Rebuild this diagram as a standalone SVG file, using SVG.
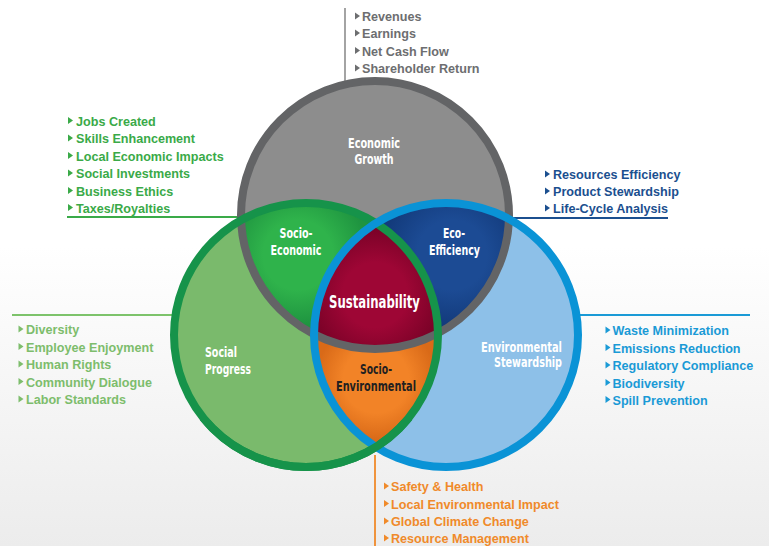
<svg xmlns="http://www.w3.org/2000/svg" xmlns:xlink="http://www.w3.org/1999/xlink" width="769" height="546" viewBox="0 0 769 546">
<defs>
<style>
.lbl{font-family:'Liberation Sans Narrow','DejaVu Sans Condensed',sans-serif;font-weight:bold;font-size:14px;fill:#ffffff;text-anchor:middle}
.li{font-family:'Liberation Sans',Arial,sans-serif;font-weight:bold;font-size:12.6px}
.conn{fill:none;stroke-width:1.8}
</style>
<linearGradient id="bg" x1="0" y1="0" x2="0" y2="1">
<stop offset="0.45" stop-color="#ffffff"/>
<stop offset="1" stop-color="#ececec"/>
</linearGradient>
<path id="tri" d="M0,-8.6 L5,-5 L0,-1.4 Z"/>
<clipPath id="cGray"><circle cx="375" cy="215" r="134"/></clipPath>
<clipPath id="cGreen"><circle cx="306" cy="335" r="132"/></clipPath>
<clipPath id="cBlue"><circle cx="446" cy="335" r="132"/></clipPath>
<clipPath id="cBottom"><rect x="0" y="420" width="769" height="126"/></clipPath>
<radialGradient id="gSE" gradientUnits="userSpaceOnUse" cx="298" cy="255" r="70">
<stop offset="0.5" stop-color="#2fb34b"/><stop offset="1" stop-color="#1f9440"/></radialGradient>
<radialGradient id="gEE" gradientUnits="userSpaceOnUse" cx="452" cy="255" r="70">
<stop offset="0.5" stop-color="#1c4b94"/><stop offset="1" stop-color="#133b7c"/></radialGradient>
<radialGradient id="gSus" gradientUnits="userSpaceOnUse" cx="375" cy="295" r="65">
<stop offset="0.5" stop-color="#9e0635"/><stop offset="1" stop-color="#7c0228"/></radialGradient>
<radialGradient id="gOr" gradientUnits="userSpaceOnUse" cx="376" cy="380" r="60">
<stop offset="0.55" stop-color="#f28327"/><stop offset="1" stop-color="#d96a18"/></radialGradient>
</defs>

<rect x="0" y="0" width="769" height="546" fill="url(#bg)"/>

<g id="connectors">
<line class="conn" x1="345" y1="8" x2="345" y2="90" stroke="#9a9a9a"/>
<line class="conn" x1="67" y1="217" x2="250" y2="217" stroke="#3aaa48"/>
<line class="conn" x1="505" y1="218" x2="668" y2="218" stroke="#1b4f8f"/>
<line class="conn" x1="12" y1="315" x2="180" y2="315" stroke="#7dc36b"/>
<line class="conn" x1="570" y1="315" x2="750" y2="315" stroke="#1a9ad6"/>
<line class="conn" x1="375" y1="455" x2="375" y2="546" stroke="#f08a2a"/>
</g>

<g id="venn">
<circle cx="375" cy="215" r="134" fill="#8d8d8d"/>
<circle cx="306" cy="335" r="132" fill="#7aba6c"/>
<circle cx="446" cy="335" r="132" fill="#8dc0e8"/>
<g clip-path="url(#cGray)"><circle cx="306" cy="335" r="132" fill="url(#gSE)"/></g>
<g clip-path="url(#cGray)"><circle cx="446" cy="335" r="132" fill="url(#gEE)"/></g>
<g clip-path="url(#cGreen)"><circle cx="446" cy="335" r="132" fill="url(#gOr)"/></g>
<g clip-path="url(#cGray)"><g clip-path="url(#cGreen)"><circle cx="446" cy="335" r="132" fill="url(#gSus)"/></g></g>
<circle cx="375" cy="215" r="134" fill="none" stroke="#636466" stroke-width="8"/>
<circle cx="306" cy="335" r="132" fill="none" stroke="#16934a" stroke-width="8"/>
<circle cx="446" cy="335" r="132" fill="none" stroke="#0a93d6" stroke-width="8"/>
<g clip-path="url(#cBottom)"><circle cx="306" cy="335" r="132" fill="none" stroke="#16934a" stroke-width="8"/></g>
</g>

<g id="node-economic">
<text class="lbl" x="374" y="148" textLength="52" lengthAdjust="spacingAndGlyphs">Economic</text>
<text class="lbl" x="374" y="164" textLength="39" lengthAdjust="spacingAndGlyphs">Growth</text>
</g>
<g id="node-socio-economic">
<text class="lbl" x="296" y="238" textLength="33" lengthAdjust="spacingAndGlyphs">Socio-</text>
<text class="lbl" x="296" y="255" textLength="51" lengthAdjust="spacingAndGlyphs">Economic</text>
</g>
<g id="node-eco-efficiency">
<text class="lbl" x="454" y="238" textLength="22" lengthAdjust="spacingAndGlyphs">Eco-</text>
<text class="lbl" x="454.5" y="255" textLength="51" lengthAdjust="spacingAndGlyphs">Efficiency</text>
</g>
<g id="node-sustainability">
<text class="lbl" x="374.5" y="308" style="font-size:17px" textLength="91" lengthAdjust="spacingAndGlyphs">Sustainability</text>
</g>
<g id="node-socio-environmental">
<text class="lbl" x="376" y="374" style="fill:#231f20" textLength="32" lengthAdjust="spacingAndGlyphs">Socio-</text>
<text class="lbl" x="376" y="391" style="fill:#231f20" textLength="80" lengthAdjust="spacingAndGlyphs">Environmental</text>
</g>
<g id="node-social">
<text class="lbl" x="205" y="357" style="text-anchor:start" textLength="32" lengthAdjust="spacingAndGlyphs">Social</text>
<text class="lbl" x="205" y="374" style="text-anchor:start" textLength="46" lengthAdjust="spacingAndGlyphs">Progress</text>
</g>
<g id="node-environmental">
<text class="lbl" x="481" y="352" style="text-anchor:start" textLength="81" lengthAdjust="spacingAndGlyphs">Environmental</text>
<text class="lbl" x="494" y="367" style="text-anchor:start" textLength="68" lengthAdjust="spacingAndGlyphs">Stewardship</text>
</g>

<g id="list-economic" fill="#6d6e70">
<use xlink:href="#tri" x="355" y="21"/><text class="li" x="362" y="21">Revenues</text>
<use xlink:href="#tri" x="355" y="38"/><text class="li" x="362" y="38">Earnings</text>
<use xlink:href="#tri" x="355" y="55.5"/><text class="li" x="362" y="55.5">Net Cash Flow</text>
<use xlink:href="#tri" x="355" y="73"/><text class="li" x="362" y="73">Shareholder Return</text>
</g>
<g id="list-socio-economic" fill="#3aaa48">
<use xlink:href="#tri" x="68" y="125.5"/><text class="li" x="76" y="125.5">Jobs Created</text>
<use xlink:href="#tri" x="68" y="143"/><text class="li" x="76" y="143">Skills Enhancement</text>
<use xlink:href="#tri" x="68" y="160.5"/><text class="li" x="76" y="160.5">Local Economic Impacts</text>
<use xlink:href="#tri" x="68" y="178"/><text class="li" x="76" y="178">Social Investments</text>
<use xlink:href="#tri" x="68" y="195.5"/><text class="li" x="76" y="195.5">Business Ethics</text>
<use xlink:href="#tri" x="68" y="212.5"/><text class="li" x="76" y="212.5">Taxes/Royalties</text>
</g>
<g id="list-eco-efficiency" fill="#1b4f8f">
<use xlink:href="#tri" x="545" y="179"/><text class="li" x="553" y="179">Resources Efficiency</text>
<use xlink:href="#tri" x="545" y="196"/><text class="li" x="553" y="196">Product Stewardship</text>
<use xlink:href="#tri" x="545" y="213"/><text class="li" x="553" y="213">Life-Cycle Analysis</text>
</g>
<g id="list-social" fill="#7dbd6c">
<use xlink:href="#tri" x="18.5" y="334"/><text class="li" x="26" y="334">Diversity</text>
<use xlink:href="#tri" x="18.5" y="351.5"/><text class="li" x="26" y="351.5">Employee Enjoyment</text>
<use xlink:href="#tri" x="18.5" y="369"/><text class="li" x="26" y="369">Human Rights</text>
<use xlink:href="#tri" x="18.5" y="386.5"/><text class="li" x="26" y="386.5">Community Dialogue</text>
<use xlink:href="#tri" x="18.5" y="404"/><text class="li" x="26" y="404">Labor Standards</text>
</g>
<g id="list-environmental" fill="#1a9ad6">
<use xlink:href="#tri" x="605.5" y="335"/><text class="li" x="612.5" y="335">Waste Minimization</text>
<use xlink:href="#tri" x="605.5" y="352.5"/><text class="li" x="612.5" y="352.5">Emissions Reduction</text>
<use xlink:href="#tri" x="605.5" y="370"/><text class="li" x="612.5" y="370">Regulatory Compliance</text>
<use xlink:href="#tri" x="605.5" y="387.5"/><text class="li" x="612.5" y="387.5">Biodiversity</text>
<use xlink:href="#tri" x="605.5" y="404.5"/><text class="li" x="612.5" y="404.5">Spill Prevention</text>
</g>
<g id="list-socio-environmental" fill="#f08a2a">
<use xlink:href="#tri" x="384" y="491"/><text class="li" x="391" y="491">Safety &amp; Health</text>
<use xlink:href="#tri" x="384" y="508.5"/><text class="li" x="391" y="508.5">Local Environmental Impact</text>
<use xlink:href="#tri" x="384" y="526"/><text class="li" x="391" y="526">Global Climate Change</text>
<use xlink:href="#tri" x="384" y="543"/><text class="li" x="391" y="543">Resource Management</text>
</g>
</svg>
